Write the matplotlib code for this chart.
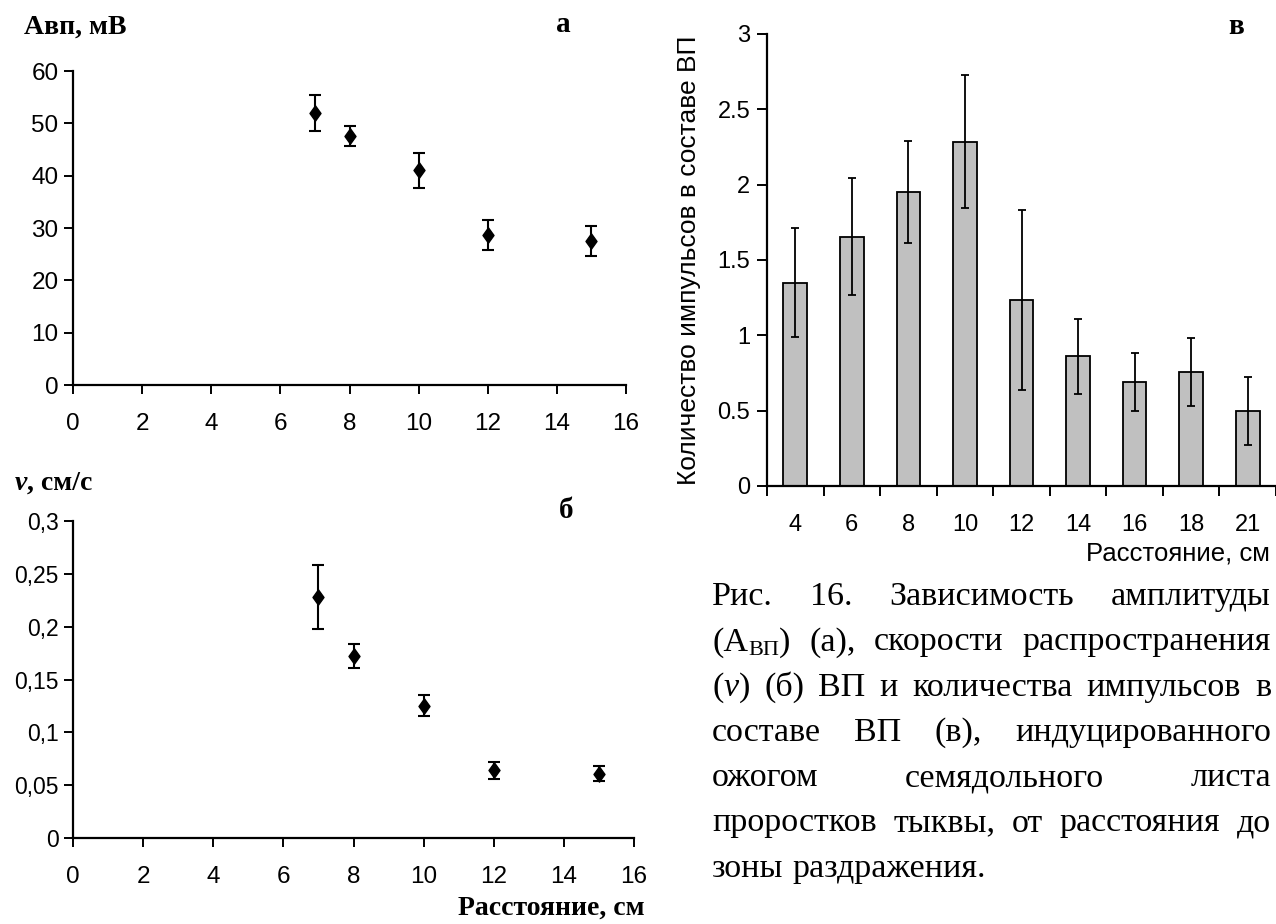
import matplotlib
matplotlib.use("Agg")
import matplotlib.pyplot as plt
from matplotlib import font_manager
from matplotlib.path import Path
import numpy as np

# ---------------- data ----------------
dist_a = [7, 8, 10, 12, 15]
amp_a = [52.0, 47.5, 41.0, 28.7, 27.5]
amp_err = [3.4, 1.9, 3.3, 2.9, 2.9]

dist_b = [7, 8, 10, 12, 15]
vel_b = [0.228, 0.172, 0.125, 0.064, 0.061]
vel_err = [0.030, 0.0115, 0.010, 0.008, 0.007]

cat_c = ["4", "6", "8", "10", "12", "14", "16", "18", "21"]
cnt_c = [1.35, 1.655, 1.95, 2.285, 1.235, 0.86, 0.69, 0.755, 0.50]
cnt_err = [0.36, 0.39, 0.34, 0.44, 0.60, 0.25, 0.19, 0.227, 0.226]

xticks_ab = [0, 2, 4, 6, 8, 10, 12, 14, 16]
yticks_a = [0, 10, 20, 30, 40, 50, 60]
yticks_b = [0, 0.05, 0.1, 0.15, 0.2, 0.25, 0.3]
yticklabels_b = ["0", "0,05", "0,1", "0,15", "0,2", "0,25", "0,3"]
yticks_c = [0, 0.5, 1, 1.5, 2, 2.5, 3]
yticklabels_c = ["0", "0.5", "1", "1.5", "2", "2.5", "3"]

caption_lines = [
    [[("Рис.", "n")], [("16.", "n")], [("Зависимость", "n")], [("амплитуды", "n")]],
    [[("(А", "n"), ("ВП", "s"), (")", "n")], [("(а),", "n")], [("скорости", "n")], [("распространения", "n")]],
    [[("(", "n"), ("v", "i"), (")", "n")], [("(б)", "n")], [("ВП", "n")], [("и", "n")], [("количества", "n")],
     [("импульсов", "n")], [("в", "n")]],
    [[("составе", "n")], [("ВП", "n")], [("(в),", "n")], [("индуцированного", "n")]],
    [[("ожогом", "n")], [("семядольного", "n")], [("листа", "n")]],
    [[("проростков", "n")], [("тыквы,", "n")], [("от", "n")], [("расстояния", "n")], [("до", "n")]],
    [[("зоны", "n")], [("раздражения.", "n")]],
]

# ---------------- fonts ----------------
names = {f.name for f in font_manager.fontManager.ttflist}
SANS = "Liberation Sans"
NARROW = "Liberation Sans Narrow" if "Liberation Sans Narrow" in names else "Liberation Sans"
SERIF = "Liberation Serif"

W, H = 1276, 924
fig = plt.figure(figsize=(W / 100, H / 100), dpi=100)
fig.patch.set_facecolor("white")


def px_axes(left, top, right, bottom):
    return fig.add_axes([left / W, 1 - bottom / H, (right - left) / W, (bottom - top) / H])


diamond = Path([(0, 1), (0.72, 0), (0, -1), (-0.72, 0), (0, 1)],
               [Path.MOVETO, Path.LINETO, Path.LINETO, Path.LINETO, Path.CLOSEPOLY])


def style_scatter_axes(ax, fs_x, fs_y, fam):
    for s in ["top", "right"]:
        ax.spines[s].set_visible(False)
    for s in ["left", "bottom"]:
        ax.spines[s].set_linewidth(1.6)
    ax.tick_params(axis="both", direction="out", length=6.5, width=1.4, colors="black")
    ax.tick_params(axis="x", pad=14)
    ax.tick_params(axis="y", pad=4)
    for lab in ax.get_xticklabels():
        lab.set_fontfamily(fam)
        lab.set_fontsize(fs_x)
    for lab in ax.get_yticklabels():
        lab.set_fontfamily(fam)
        lab.set_fontsize(fs_y)


# ---------------- panel a ----------------
ax_a = px_axes(73, 71, 626, 385)
ax_a.errorbar(dist_a, amp_a, yerr=amp_err, fmt="none", ecolor="black",
              elinewidth=1.5, capsize=4.5, capthick=1.5, zorder=2)
ax_a.plot(dist_a, amp_a, linestyle="none", marker=diamond, markersize=11,
          color="black", zorder=3)
ax_a.set_xlim(0, 16)
ax_a.set_ylim(0, 60)
ax_a.set_xticks(xticks_ab)
ax_a.set_yticks(yticks_a)
ax_a.set_xticklabels([str(v) for v in xticks_ab])
ax_a.set_yticklabels([str(v) for v in yticks_a])
style_scatter_axes(ax_a, 17.5, 17.5, NARROW)

# ---------------- panel b ----------------
ax_b = px_axes(73, 521, 634, 838)
ax_b.errorbar(dist_b, vel_b, yerr=vel_err, fmt="none", ecolor="black",
              elinewidth=1.5, capsize=4.5, capthick=1.5, zorder=2)
ax_b.plot(dist_b, vel_b, linestyle="none", marker=diamond, markersize=11,
          color="black", zorder=3)
ax_b.set_xlim(0, 16)
ax_b.set_ylim(0, 0.3)
ax_b.set_xticks(xticks_ab)
ax_b.set_yticks(yticks_b)
ax_b.set_xticklabels([str(v) for v in xticks_ab])
ax_b.set_yticklabels(yticklabels_b)
style_scatter_axes(ax_b, 17.5, 16.5, NARROW)

# ---------------- panel c ----------------
ax_c = px_axes(767, 34, 1276, 486)
xc = np.arange(len(cat_c))
ax_c.bar(xc, cnt_c, width=0.42, color="#c0c0c0", edgecolor="black", linewidth=1.3, zorder=2)
ax_c.errorbar(xc, cnt_c, yerr=cnt_err, fmt="none", ecolor="black",
              elinewidth=1.3, capsize=3, capthick=1.3, zorder=3)
ax_c.set_xlim(-0.5, len(cat_c) - 0.5 - 0.03)
ax_c.set_ylim(0, 3)
ax_c.set_yticks(yticks_c)
ax_c.set_yticklabels(yticklabels_c)
ax_c.set_xticks(xc)
ax_c.set_xticklabels(cat_c)
ax_c.set_xticks(np.arange(len(cat_c) + 1) - 0.5, minor=True)
for s in ["top", "right"]:
    ax_c.spines[s].set_visible(False)
for s in ["left", "bottom"]:
    ax_c.spines[s].set_linewidth(1.6)
ax_c.tick_params(axis="x", which="major", length=0, pad=20)
ax_c.tick_params(axis="x", which="minor", length=7, width=1.4, direction="out")
ax_c.tick_params(axis="y", length=7, width=1.4, direction="out", pad=5)
for lab in ax_c.get_xticklabels() + ax_c.get_yticklabels():
    lab.set_fontfamily(SANS)
    lab.set_fontsize(17)
ax_c.set_ylabel("Количество импульсов в составе ВП", fontfamily=SANS, fontsize=19, labelpad=12)

# ---------------- labels ----------------
def ftext(x, y, s, **kw):
    return fig.text(x / W, 1 - y / H, s, **kw)

ftext(24, 27, "Авп, мВ", fontfamily=SERIF, fontweight="bold", fontsize=20, va="center", ha="left")
ftext(563, 25, "а", fontfamily=SERIF, fontweight="bold", fontsize=21, va="center", ha="center")
ftext(15, 483, "v", fontfamily=SERIF, fontweight="bold", style="italic", fontsize=20, va="center", ha="left")
ftext(27, 483, ", см/с", fontfamily=SERIF, fontweight="bold", fontsize=20, va="center", ha="left")
ftext(566, 510, "б", fontfamily=SERIF, fontweight="bold", fontsize=21, va="center", ha="center")
ftext(458, 908, "Расстояние, см", fontfamily=SERIF, fontweight="bold", fontsize=20, va="center", ha="left")
ftext(1236, 27, "в", fontfamily=SERIF, fontweight="bold", fontsize=21, va="center", ha="center")
ftext(1270, 553, "Расстояние, см", fontfamily=SANS, fontsize=18.5, va="center", ha="right")

# ---------------- caption (justified) ----------------
renderer = fig.canvas.get_renderer()
CAP_FS = 24.5
SUB_FS = 16
cap_left, cap_right = 712, 1271
line_y0, line_step = 596, 45.3


def seg_props(style):
    if style == "s":
        return dict(fontfamily=SERIF, fontsize=SUB_FS)
    if style == "i":
        return dict(fontfamily=SERIF, fontsize=CAP_FS, style="italic")
    return dict(fontfamily=SERIF, fontsize=CAP_FS)


def seg_width(txt, style):
    t = fig.text(0, 0, txt, **seg_props(style))
    w = t.get_window_extent(renderer).width
    t.remove()
    return w


for li, words in enumerate(caption_lines):
    baseline = line_y0 + li * line_step + 9
    widths = [[seg_width(t, s) for t, s in word] for word in words]
    word_w = [sum(w) for w in widths]
    last = li == len(caption_lines) - 1
    if last or len(words) == 1:
        gap = seg_width("a b", "n") - seg_width("ab", "n")
    else:
        gap = (cap_right - cap_left - sum(word_w)) / (len(words) - 1)
    x = cap_left
    for word, ws in zip(words, widths):
        for (t, s), w in zip(word, ws):
            yb = baseline + (5 if s == "s" else 0)
            ftext(x, yb, t, va="baseline", ha="left", **seg_props(s))
            x += w
        x += gap

fig.savefig("out.png", dpi=100, facecolor="white")
